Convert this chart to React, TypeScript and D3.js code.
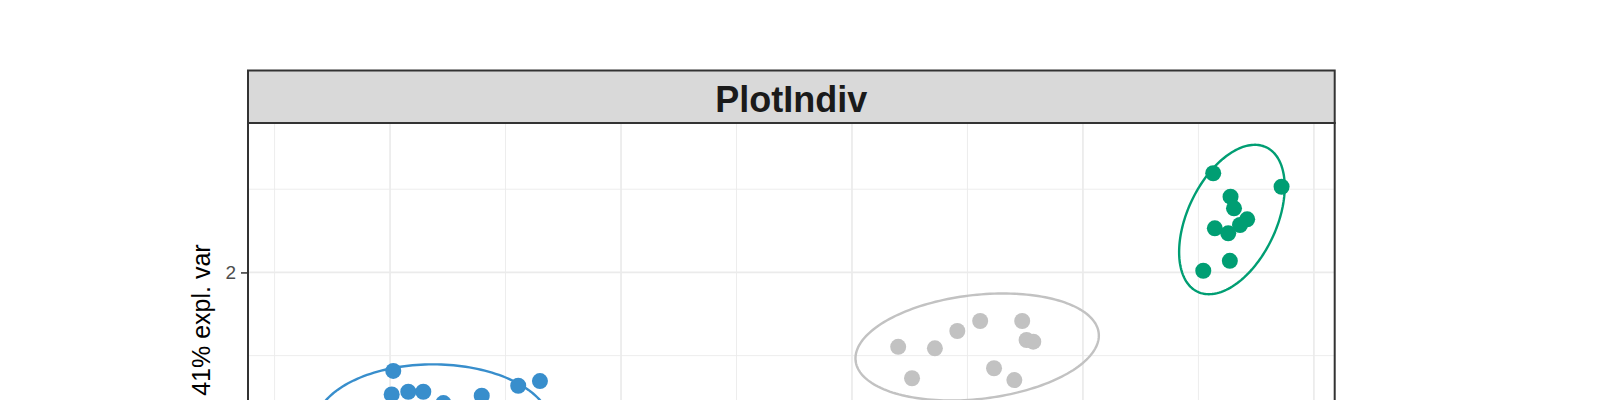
import React, { useRef, useEffect } from "react";
import * as d3 from "d3";

// group colours (mixOmics palette)
const groupColors = ["#388ECC", "#C2C2C2", "#009E73"];

// individuals per group (component 1, component 2)
const blueX = [-1.986, -1.351, -1.445, -1.993, -1.921, -1.856, -1.769, -1.603];
const blueY = [1.408, 1.347, 1.319, 1.267, 1.283, 1.283, 1.215, 1.259];

const grayX = [0.2, 0.359, 0.456, 0.555, 0.737, 0.756, 0.785, 0.26, 0.615, 0.703];
const grayY = [1.553, 1.544, 1.648, 1.708, 1.708, 1.594, 1.584, 1.364, 1.424, 1.353];

const greenX = [1.564, 1.86, 1.639, 1.654, 1.711, 1.68, 1.571, 1.629, 1.636, 1.521];
const greenY = [2.596, 2.515, 2.455, 2.385, 2.319, 2.285, 2.265, 2.235, 2.07, 2.01];

// confidence ellipses: centre and (scaled) covariance per group
const ellipseCx = [-1.814, 0.542, 1.645];
const ellipseCy = [1.075, 1.552, 2.318];
const ellipseVarX = [0.261, 0.2776, 0.05225];
const ellipseVarY = [0.1388, 0.1034, 0.2015];
const ellipseCov = [0.0, 0.0362, 0.0447];

const xMajor = [-2, -1, 0, 1, 2];
const xMinor = [-2.5, -1.5, -0.5, 0.5, 1.5];
const yMajor = [0, 1, 2];
const yMinor = [0.5, 1.5, 2.5];

const title = "PlotIndiv";
const yLabel = "X-variate 2: 41% expl. var";

const App = () => {
  const ref = useRef<SVGSVGElement | null>(null);

  useEffect(() => {
    if (!ref.current) return;
    const svg = d3.select(ref.current);
    svg.selectAll("*").remove();

    const left = 248, right = 1334.7, stripTop = 70.5, top = 123, bottom = 652;
    const font = "'Liberation Sans', Arial, sans-serif";

    const x = d3.scaleLinear().domain([-2.615, 2.09]).range([left, right]);
    const y = d3.scaleLinear().domain([-0.281, 2.898]).range([bottom, top]);

    svg.append("defs").append("clipPath").attr("id", "panel-clip")
      .append("rect").attr("x", left).attr("y", top)
      .attr("width", right - left).attr("height", bottom - top);

    // grid
    const grid = svg.append("g");
    grid.selectAll(".xmin").data(xMinor).enter().append("line")
      .attr("x1", d => x(d)).attr("x2", d => x(d)).attr("y1", top).attr("y2", bottom)
      .attr("stroke", "#EBEBEB").attr("stroke-width", 0.9);
    grid.selectAll(".ymin").data(yMinor).enter().append("line")
      .attr("y1", d => y(d)).attr("y2", d => y(d)).attr("x1", left).attr("x2", right)
      .attr("stroke", "#EBEBEB").attr("stroke-width", 0.9);
    grid.selectAll(".xmaj").data(xMajor).enter().append("line")
      .attr("x1", d => x(d)).attr("x2", d => x(d)).attr("y1", top).attr("y2", bottom)
      .attr("stroke", "#EBEBEB").attr("stroke-width", 1.7);
    grid.selectAll(".ymaj").data(yMajor).enter().append("line")
      .attr("y1", d => y(d)).attr("y2", d => y(d)).attr("x1", left).attr("x2", right)
      .attr("stroke", "#EBEBEB").attr("stroke-width", 1.7);

    const panel = svg.append("g").attr("clip-path", "url(#panel-clip)");

    // ellipses
    const t = d3.range(0, 2 * Math.PI + 0.01, Math.PI / 90);
    const line = d3.line<[number, number]>().x(d => x(d[0])).y(d => y(d[1]));
    ellipseCx.forEach((cx, i) => {
      const l11 = Math.sqrt(ellipseVarX[i]);
      const l21 = ellipseCov[i] / l11;
      const l22 = Math.sqrt(ellipseVarY[i] - l21 * l21);
      const pts: [number, number][] = t.map(a => [
        cx + l11 * Math.cos(a),
        ellipseCy[i] + l21 * Math.cos(a) + l22 * Math.sin(a),
      ]);
      panel.append("path").attr("d", line(pts))
        .attr("fill", "none").attr("stroke", groupColors[i]).attr("stroke-width", 2.4);
    });

    // points
    const groups = [[blueX, blueY], [grayX, grayY], [greenX, greenY]];
    groups.forEach(([gx, gy], i) => {
      panel.selectAll(".pt" + i).data(gx).enter().append("circle")
        .attr("cx", d => x(d)).attr("cy", (_, j) => y(gy[j]))
        .attr("r", 8).attr("fill", groupColors[i]);
    });

    // panel border
    svg.append("rect").attr("x", left).attr("y", top)
      .attr("width", right - left).attr("height", bottom - top)
      .attr("fill", "none").attr("stroke", "#333333").attr("stroke-width", 2);

    // strip
    svg.append("rect").attr("x", left).attr("y", stripTop)
      .attr("width", right - left).attr("height", top - stripTop)
      .attr("fill", "#D9D9D9").attr("stroke", "#333333").attr("stroke-width", 2);
    svg.append("text").attr("x", (left + right) / 2).attr("y", 111.5)
      .attr("text-anchor", "middle").attr("font-family", font)
      .attr("font-size", 36).attr("font-weight", "bold").attr("fill", "#1A1A1A")
      .text(title);

    // y axis
    const yAxis = svg.append("g").attr("transform", `translate(${left},0)`)
      .call(d3.axisLeft(y).tickValues(yMajor).tickSize(7).tickPadding(5).tickFormat(d3.format("d")));
    yAxis.select(".domain").remove();
    yAxis.selectAll("line").attr("stroke", "#333333").attr("stroke-width", 1.5);
    yAxis.selectAll("text").attr("font-family", font).attr("font-size", 19).attr("fill", "#4D4D4D");

    svg.append("text")
      .attr("transform", `translate(210,${(top + bottom) / 2}) rotate(-90)`)
      .attr("text-anchor", "middle").attr("font-family", font)
      .attr("font-size", 25).attr("fill", "#000000")
      .text(yLabel);
  }, []);

  return (
    <svg
      ref={ref}
      width={1600}
      height={400}
      style={{ position: "absolute", left: 0, top: 0, background: "#ffffff" }}
    />
  );
};

export default App;
